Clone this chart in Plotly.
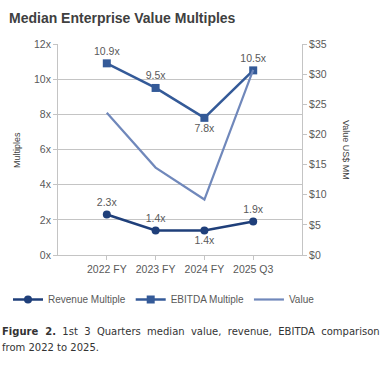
import plotly.graph_objects as go

categories = ["2022 FY", "2023 FY", "2024 FY", "2025 Q3"]
revenue_multiple = [2.3, 1.4, 1.4, 1.9]
ebitda_multiple = [10.9, 9.5, 7.8, 10.5]
value_mm = [23.6, 14.5, 9.2, 30.7]
revenue_labels = ["2.3x", "1.4x", "1.4x", "1.9x"]
ebitda_labels = ["10.9x", "9.5x", "7.8x", "10.5x"]

W, H = 390, 380
L, R, T, B = 58, 302, 44, 255

def px(x):
    return (x - L) / (R - L)

def py(y):
    return (B - y) / (B - T)

GRAY = "#595959"
LINE = "#c4c4c4"
C_REV = "#1f3f7a"
C_EB = "#345a98"
C_VAL = "#7088bb"
FONT = "Liberation Sans, Arial"

fig = go.Figure()
fig.add_trace(go.Scatter(
    x=categories, y=revenue_multiple, name="Revenue Multiple",
    mode="lines+markers+text", text=revenue_labels,
    textposition=["top center", "top center", "bottom center", "top center"],
    textfont=dict(family=FONT, size=10.5, color=GRAY),
    line=dict(color=C_REV, width=2.5), marker=dict(symbol="circle", size=8, color=C_REV),
))
fig.add_trace(go.Scatter(
    x=categories, y=ebitda_multiple, name="EBITDA Multiple",
    mode="lines+markers+text", text=ebitda_labels,
    textposition=["top center", "top center", "bottom center", "top center"],
    textfont=dict(family=FONT, size=10.5, color=GRAY),
    line=dict(color=C_EB, width=2.5), marker=dict(symbol="square", size=8, color=C_EB),
))
fig.add_trace(go.Scatter(
    x=categories, y=value_mm, name="Value", yaxis="y2",
    mode="lines", line=dict(color=C_VAL, width=2.2),
))

axfont = dict(family=FONT, size=10.5, color=GRAY)

fig.update_layout(
    width=W, height=H,
    margin=dict(l=L, r=W - R, t=T, b=H - B, pad=0, autoexpand=False),
    plot_bgcolor="white", paper_bgcolor="white",
    showlegend=True,
    legend=dict(orientation="h",
                x=px(320), xanchor="right", y=py(285), yanchor="top",
                font=dict(family=FONT, size=10, color=GRAY),
                itemwidth=30, tracegroupgap=0, bgcolor="rgba(0,0,0,0)"),
    xaxis=dict(type="category", range=[-1, 4], showgrid=False, automargin=False,
               showline=True, linecolor=LINE, linewidth=1,
               ticks="outside", ticklen=4, tickcolor=LINE,
               tickfont=axfont, fixedrange=True),
    yaxis=dict(range=[0, 12], dtick=2, ticksuffix="x", automargin=False,
               showgrid=True, gridcolor=LINE, gridwidth=1,
               showline=True, linecolor=LINE, linewidth=1,
               ticks="outside", ticklen=4, tickcolor=LINE,
               tickfont=axfont, zeroline=False),
    yaxis2=dict(range=[0, 35], dtick=5, tickprefix="$", overlaying="y", side="right",
                automargin=False,
                showgrid=False, showline=True, linecolor=LINE, linewidth=1,
                ticks="outside", ticklen=4, tickcolor=LINE,
                tickfont=axfont, zeroline=False),
)

sp = " &nbsp;"
caption1 = "<b>Figure" + sp + "2.</b>" + sp + sp.join(
    ["1st", "3", "Quarters", "median", "value,", "revenue,", "EBITDA", "comparison"])

anns = [
    dict(text="<b>Median Enterprise Value Multiples</b>", x=px(7), y=py(18),
         xanchor="left", yanchor="middle",
         font=dict(family=FONT, size=14, color="#404040")),
    dict(text="Multiples", x=px(17), y=py(150), textangle=-90,
         xanchor="center", yanchor="middle",
         font=dict(family=FONT, size=9, color="#404040")),
    dict(text="Value US$ MM", x=px(346), y=py(150), textangle=90,
         xanchor="center", yanchor="middle",
         font=dict(family=FONT, size=9, color="#404040")),
    dict(text=caption1,
         x=px(0), y=py(331), xanchor="left", yanchor="middle",
         font=dict(family="DejaVu Sans, Verdana", size=10, color="#333333")),
    dict(text="from 2022 to 2025.", x=px(0), y=py(347), xanchor="left", yanchor="middle",
         font=dict(family="DejaVu Sans, Verdana", size=10, color="#333333")),
]
for a in anns:
    a.update(xref="paper", yref="paper", showarrow=False)
fig.update_layout(annotations=anns)

fig.write_html("out.html", config={"displayModeBar": False},
               post_script="document.body.style.margin='0';")
